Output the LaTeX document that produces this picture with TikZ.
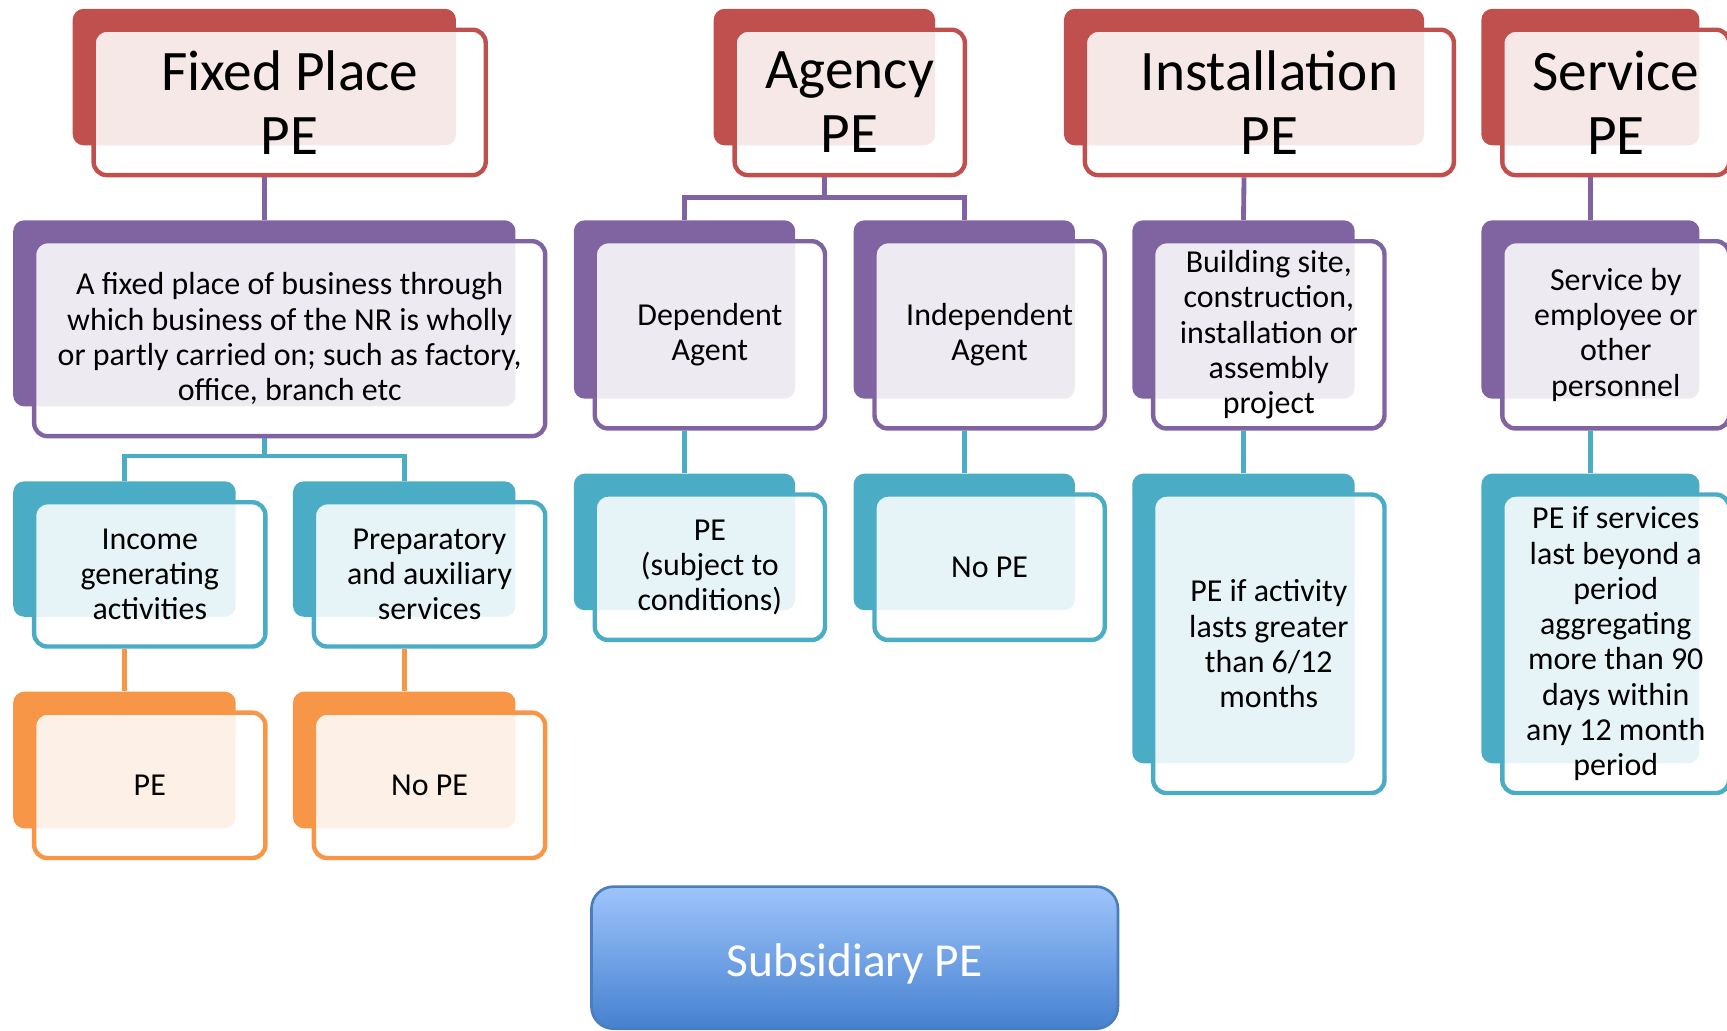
\documentclass[tikz,border=0pt]{standalone}
\usepackage{fontspec}
\setmainfont{Carlito}
\usetikzlibrary{backgrounds}
\definecolor{cred}{HTML}{C0504D}
\definecolor{cpur}{HTML}{8064A2}
\definecolor{ctea}{HTML}{4BACC6}
\definecolor{cora}{HTML}{F79646}
\definecolor{subtop}{HTML}{9EC4FB}
\definecolor{subbot}{HTML}{4581CF}
\definecolor{subline}{HTML}{4A7EBB}
\tikzset{
  backbox/.style={rectangle, rounded corners=5pt, inner sep=0pt, draw=none},
  frontbox/.style={rectangle, rounded corners=6pt, inner sep=0pt, line width=2pt,
    fill=white, fill opacity=0.87, text opacity=1, align=center},
  titletext/.style={font=\fontsize{26}{29}\selectfont},
  bodytext/.style={font=\fontsize{14.5}{16}\selectfont},
  conn/.style={line width=2.2pt},
  subbox/.style={rectangle, rounded corners=10pt, top color=subtop, bottom color=subbot,
    draw=subline, line width=1.2pt, text=white, font=\fontsize{21.5}{24}\selectfont}
}
% #1 options, #2 name, #3 x1, #4 y1, #5 x2, #6 y2 (back box), #7 colour, #8 text
\newcommand\dbox[8][]{%
  \node[backbox, fill=#7, minimum width={(#5-#3)*0.5pt}, minimum height={(#6-#4)*0.5pt}]
    (#2B) at ({(#3+#5)/2},{(#4+#6)/2}) {};
  \node[frontbox, draw=#7, minimum width={(#5-#3+8)*0.5pt}, minimum height={(#6-#4+8)*0.5pt}, #1]
    (#2) at ({(#3+#5)/2+23},{(#4+#6)/2+23}) {#8};
}
\begin{document}
\begin{tikzpicture}[x=0.5pt,y=-0.5pt]
\useasboundingbox (0,0) rectangle (1568,936);
% row 1
\dbox[titletext]{fp}{66}{8}{414}{132}{cred}{Fixed Place\\PE}
\dbox[titletext]{ag}{648}{8}{849}{132}{cred}{Agency\\PE}
\dbox[titletext]{in}{966}{8}{1293}{132}{cred}{Installation\\PE}
\dbox[titletext]{sv}{1345}{8}{1543}{132}{cred}{Service\\PE}
% row 2
\dbox[bodytext]{fd}{12}{200}{468}{369}{cpur}{A fixed place of business through\\which business of the NR is wholly\\or partly carried on; such as factory,\\office, branch etc}
\dbox[bodytext]{dep}{521}{200}{722}{362}{cpur}{Dependent\\Agent}
\dbox[bodytext]{ind}{775}{200}{976}{362}{cpur}{Independent\\Agent}
\dbox[bodytext]{bs}{1028}{200}{1230}{362}{cpur}{Building site,\\construction,\\installation or\\assembly\\project}
\dbox[bodytext]{sb}{1345}{200}{1543}{362}{cpur}{Service by\\employee or\\other\\personnel}
% row 3
\dbox[bodytext]{inc}{12}{437}{214}{560}{ctea}{Income\\generating\\activities}
\dbox[bodytext]{prep}{266}{437}{468}{560}{ctea}{Preparatory\\and auxiliary\\services}
\dbox[bodytext]{pec}{521}{430}{722}{554}{ctea}{PE\\(subject to\\conditions)}
\dbox[bodytext]{nop}{775}{430}{976}{554}{ctea}{No PE}
\dbox[bodytext]{pea}{1028}{430}{1230}{693}{ctea}{PE if activity\\lasts greater\\than 6/12\\months}
\dbox[bodytext]{pes}{1345}{430}{1543}{693}{ctea}{PE if services\\last beyond a\\period\\aggregating\\more than 90\\days within\\any 12 month\\period}
% row 4
\dbox[bodytext]{pe}{12}{628}{214}{752}{cora}{PE}
\dbox[bodytext]{nope}{266}{628}{468}{752}{cora}{No PE}
% subsidiary
\node[subbox, minimum width=239pt, minimum height=64.5pt] (sub) at (776,869.5) {\raisebox{-8.75pt}[0pt][0pt]{Subsidiary PE}};
% junctions
\coordinate (agJ) at (748.5,179);
\coordinate (fdJ) at (240,414);
\begin{scope}[on background layer]
\draw[conn, cpur] (fpB.south |- fp.south) -- (fdB.north);
\draw[conn, cpur] (agB.south |- ag.south) -- (agJ) -| (depB.north);
\draw[conn, cpur] (agJ) -| (indB.north);
\draw[conn, cpur] (inB.south |- in.south) -- (bsB.north);
\draw[conn, cpur] (svB.south |- sv.south) -- (sbB.north);
\draw[conn, ctea] (fdB.south |- fd.south) -- (fdJ) -| (incB.north);
\draw[conn, ctea] (fdJ) -| (prepB.north);
\draw[conn, ctea] (depB.south |- dep.south) -- (pecB.north);
\draw[conn, ctea] (indB.south |- ind.south) -- (nopB.north);
\draw[conn, ctea] (bsB.south |- bs.south) -- (peaB.north);
\draw[conn, ctea] (sbB.south |- sb.south) -- (pesB.north);
\draw[conn, cora] (incB.south |- inc.south) -- (peB.north);
\draw[conn, cora] (prepB.south |- prep.south) -- (nopeB.north);
\end{scope}
\end{tikzpicture}
\end{document}
